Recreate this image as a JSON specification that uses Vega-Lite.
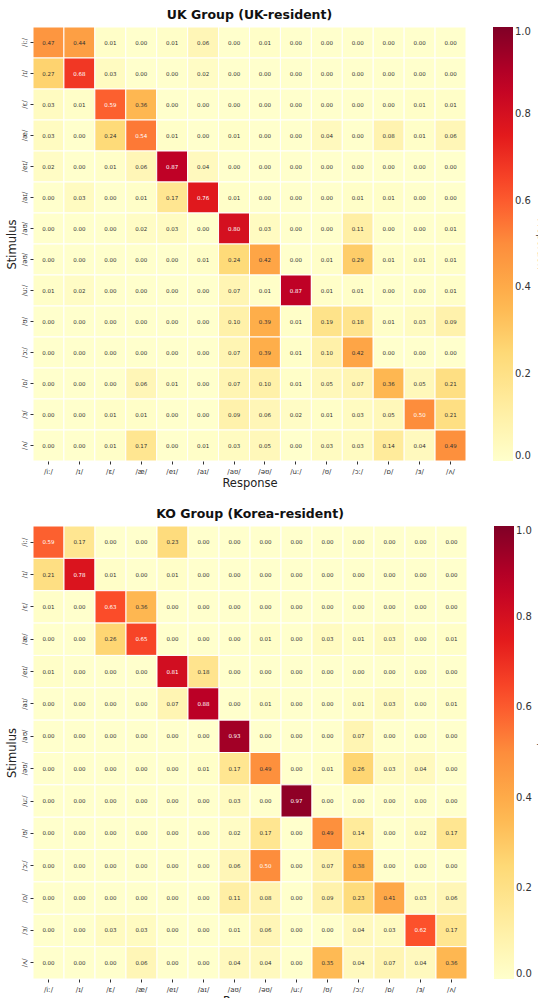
{
"$schema": "https://vega.github.io/schema/vega-lite/v6.json",
"padding": {"left": 6, "top": 9, "right": 0, "bottom": 0},
"background": "white",
"spacing": 19,
"datasets": {
"uk": [
{"s":"/iː/","r":"/iː/","v":0.47},{"s":"/iː/","r":"/ɪ/","v":0.44},{"s":"/iː/","r":"/ɛ/","v":0.01},{"s":"/iː/","r":"/æ/","v":0.00},{"s":"/iː/","r":"/eɪ/","v":0.01},{"s":"/iː/","r":"/aɪ/","v":0.06},{"s":"/iː/","r":"/aʊ/","v":0.00},{"s":"/iː/","r":"/əʊ/","v":0.01},{"s":"/iː/","r":"/uː/","v":0.00},{"s":"/iː/","r":"/ʊ/","v":0.00},{"s":"/iː/","r":"/ɔː/","v":0.00},{"s":"/iː/","r":"/ɒ/","v":0.00},{"s":"/iː/","r":"/ɜ/","v":0.00},{"s":"/iː/","r":"/ʌ/","v":0.00},
{"s":"/ɪ/","r":"/iː/","v":0.27},{"s":"/ɪ/","r":"/ɪ/","v":0.68},{"s":"/ɪ/","r":"/ɛ/","v":0.03},{"s":"/ɪ/","r":"/æ/","v":0.00},{"s":"/ɪ/","r":"/eɪ/","v":0.00},{"s":"/ɪ/","r":"/aɪ/","v":0.02},{"s":"/ɪ/","r":"/aʊ/","v":0.00},{"s":"/ɪ/","r":"/əʊ/","v":0.00},{"s":"/ɪ/","r":"/uː/","v":0.00},{"s":"/ɪ/","r":"/ʊ/","v":0.00},{"s":"/ɪ/","r":"/ɔː/","v":0.00},{"s":"/ɪ/","r":"/ɒ/","v":0.00},{"s":"/ɪ/","r":"/ɜ/","v":0.00},{"s":"/ɪ/","r":"/ʌ/","v":0.00},
{"s":"/ɛ/","r":"/iː/","v":0.03},{"s":"/ɛ/","r":"/ɪ/","v":0.01},{"s":"/ɛ/","r":"/ɛ/","v":0.59},{"s":"/ɛ/","r":"/æ/","v":0.36},{"s":"/ɛ/","r":"/eɪ/","v":0.00},{"s":"/ɛ/","r":"/aɪ/","v":0.00},{"s":"/ɛ/","r":"/aʊ/","v":0.00},{"s":"/ɛ/","r":"/əʊ/","v":0.00},{"s":"/ɛ/","r":"/uː/","v":0.00},{"s":"/ɛ/","r":"/ʊ/","v":0.00},{"s":"/ɛ/","r":"/ɔː/","v":0.00},{"s":"/ɛ/","r":"/ɒ/","v":0.00},{"s":"/ɛ/","r":"/ɜ/","v":0.01},{"s":"/ɛ/","r":"/ʌ/","v":0.01},
{"s":"/æ/","r":"/iː/","v":0.03},{"s":"/æ/","r":"/ɪ/","v":0.00},{"s":"/æ/","r":"/ɛ/","v":0.24},{"s":"/æ/","r":"/æ/","v":0.54},{"s":"/æ/","r":"/eɪ/","v":0.01},{"s":"/æ/","r":"/aɪ/","v":0.00},{"s":"/æ/","r":"/aʊ/","v":0.01},{"s":"/æ/","r":"/əʊ/","v":0.00},{"s":"/æ/","r":"/uː/","v":0.00},{"s":"/æ/","r":"/ʊ/","v":0.04},{"s":"/æ/","r":"/ɔː/","v":0.00},{"s":"/æ/","r":"/ɒ/","v":0.08},{"s":"/æ/","r":"/ɜ/","v":0.01},{"s":"/æ/","r":"/ʌ/","v":0.06},
{"s":"/eɪ/","r":"/iː/","v":0.02},{"s":"/eɪ/","r":"/ɪ/","v":0.00},{"s":"/eɪ/","r":"/ɛ/","v":0.01},{"s":"/eɪ/","r":"/æ/","v":0.06},{"s":"/eɪ/","r":"/eɪ/","v":0.87},{"s":"/eɪ/","r":"/aɪ/","v":0.04},{"s":"/eɪ/","r":"/aʊ/","v":0.00},{"s":"/eɪ/","r":"/əʊ/","v":0.00},{"s":"/eɪ/","r":"/uː/","v":0.00},{"s":"/eɪ/","r":"/ʊ/","v":0.00},{"s":"/eɪ/","r":"/ɔː/","v":0.00},{"s":"/eɪ/","r":"/ɒ/","v":0.00},{"s":"/eɪ/","r":"/ɜ/","v":0.00},{"s":"/eɪ/","r":"/ʌ/","v":0.00},
{"s":"/aɪ/","r":"/iː/","v":0.00},{"s":"/aɪ/","r":"/ɪ/","v":0.03},{"s":"/aɪ/","r":"/ɛ/","v":0.00},{"s":"/aɪ/","r":"/æ/","v":0.01},{"s":"/aɪ/","r":"/eɪ/","v":0.17},{"s":"/aɪ/","r":"/aɪ/","v":0.76},{"s":"/aɪ/","r":"/aʊ/","v":0.01},{"s":"/aɪ/","r":"/əʊ/","v":0.00},{"s":"/aɪ/","r":"/uː/","v":0.00},{"s":"/aɪ/","r":"/ʊ/","v":0.00},{"s":"/aɪ/","r":"/ɔː/","v":0.01},{"s":"/aɪ/","r":"/ɒ/","v":0.01},{"s":"/aɪ/","r":"/ɜ/","v":0.00},{"s":"/aɪ/","r":"/ʌ/","v":0.00},
{"s":"/aʊ/","r":"/iː/","v":0.00},{"s":"/aʊ/","r":"/ɪ/","v":0.00},{"s":"/aʊ/","r":"/ɛ/","v":0.00},{"s":"/aʊ/","r":"/æ/","v":0.02},{"s":"/aʊ/","r":"/eɪ/","v":0.03},{"s":"/aʊ/","r":"/aɪ/","v":0.00},{"s":"/aʊ/","r":"/aʊ/","v":0.80},{"s":"/aʊ/","r":"/əʊ/","v":0.03},{"s":"/aʊ/","r":"/uː/","v":0.00},{"s":"/aʊ/","r":"/ʊ/","v":0.00},{"s":"/aʊ/","r":"/ɔː/","v":0.11},{"s":"/aʊ/","r":"/ɒ/","v":0.00},{"s":"/aʊ/","r":"/ɜ/","v":0.00},{"s":"/aʊ/","r":"/ʌ/","v":0.01},
{"s":"/əʊ/","r":"/iː/","v":0.00},{"s":"/əʊ/","r":"/ɪ/","v":0.00},{"s":"/əʊ/","r":"/ɛ/","v":0.00},{"s":"/əʊ/","r":"/æ/","v":0.00},{"s":"/əʊ/","r":"/eɪ/","v":0.00},{"s":"/əʊ/","r":"/aɪ/","v":0.01},{"s":"/əʊ/","r":"/aʊ/","v":0.24},{"s":"/əʊ/","r":"/əʊ/","v":0.42},{"s":"/əʊ/","r":"/uː/","v":0.00},{"s":"/əʊ/","r":"/ʊ/","v":0.01},{"s":"/əʊ/","r":"/ɔː/","v":0.29},{"s":"/əʊ/","r":"/ɒ/","v":0.01},{"s":"/əʊ/","r":"/ɜ/","v":0.01},{"s":"/əʊ/","r":"/ʌ/","v":0.01},
{"s":"/uː/","r":"/iː/","v":0.01},{"s":"/uː/","r":"/ɪ/","v":0.02},{"s":"/uː/","r":"/ɛ/","v":0.00},{"s":"/uː/","r":"/æ/","v":0.00},{"s":"/uː/","r":"/eɪ/","v":0.00},{"s":"/uː/","r":"/aɪ/","v":0.00},{"s":"/uː/","r":"/aʊ/","v":0.07},{"s":"/uː/","r":"/əʊ/","v":0.01},{"s":"/uː/","r":"/uː/","v":0.87},{"s":"/uː/","r":"/ʊ/","v":0.01},{"s":"/uː/","r":"/ɔː/","v":0.01},{"s":"/uː/","r":"/ɒ/","v":0.00},{"s":"/uː/","r":"/ɜ/","v":0.00},{"s":"/uː/","r":"/ʌ/","v":0.01},
{"s":"/ʊ/","r":"/iː/","v":0.00},{"s":"/ʊ/","r":"/ɪ/","v":0.00},{"s":"/ʊ/","r":"/ɛ/","v":0.00},{"s":"/ʊ/","r":"/æ/","v":0.00},{"s":"/ʊ/","r":"/eɪ/","v":0.00},{"s":"/ʊ/","r":"/aɪ/","v":0.00},{"s":"/ʊ/","r":"/aʊ/","v":0.10},{"s":"/ʊ/","r":"/əʊ/","v":0.39},{"s":"/ʊ/","r":"/uː/","v":0.01},{"s":"/ʊ/","r":"/ʊ/","v":0.19},{"s":"/ʊ/","r":"/ɔː/","v":0.18},{"s":"/ʊ/","r":"/ɒ/","v":0.01},{"s":"/ʊ/","r":"/ɜ/","v":0.03},{"s":"/ʊ/","r":"/ʌ/","v":0.09},
{"s":"/ɔː/","r":"/iː/","v":0.00},{"s":"/ɔː/","r":"/ɪ/","v":0.00},{"s":"/ɔː/","r":"/ɛ/","v":0.00},{"s":"/ɔː/","r":"/æ/","v":0.00},{"s":"/ɔː/","r":"/eɪ/","v":0.00},{"s":"/ɔː/","r":"/aɪ/","v":0.00},{"s":"/ɔː/","r":"/aʊ/","v":0.07},{"s":"/ɔː/","r":"/əʊ/","v":0.39},{"s":"/ɔː/","r":"/uː/","v":0.01},{"s":"/ɔː/","r":"/ʊ/","v":0.10},{"s":"/ɔː/","r":"/ɔː/","v":0.42},{"s":"/ɔː/","r":"/ɒ/","v":0.00},{"s":"/ɔː/","r":"/ɜ/","v":0.00},{"s":"/ɔː/","r":"/ʌ/","v":0.00},
{"s":"/ɒ/","r":"/iː/","v":0.00},{"s":"/ɒ/","r":"/ɪ/","v":0.00},{"s":"/ɒ/","r":"/ɛ/","v":0.00},{"s":"/ɒ/","r":"/æ/","v":0.06},{"s":"/ɒ/","r":"/eɪ/","v":0.01},{"s":"/ɒ/","r":"/aɪ/","v":0.00},{"s":"/ɒ/","r":"/aʊ/","v":0.07},{"s":"/ɒ/","r":"/əʊ/","v":0.10},{"s":"/ɒ/","r":"/uː/","v":0.01},{"s":"/ɒ/","r":"/ʊ/","v":0.05},{"s":"/ɒ/","r":"/ɔː/","v":0.07},{"s":"/ɒ/","r":"/ɒ/","v":0.36},{"s":"/ɒ/","r":"/ɜ/","v":0.05},{"s":"/ɒ/","r":"/ʌ/","v":0.21},
{"s":"/ɜ/","r":"/iː/","v":0.00},{"s":"/ɜ/","r":"/ɪ/","v":0.00},{"s":"/ɜ/","r":"/ɛ/","v":0.01},{"s":"/ɜ/","r":"/æ/","v":0.01},{"s":"/ɜ/","r":"/eɪ/","v":0.00},{"s":"/ɜ/","r":"/aɪ/","v":0.00},{"s":"/ɜ/","r":"/aʊ/","v":0.09},{"s":"/ɜ/","r":"/əʊ/","v":0.06},{"s":"/ɜ/","r":"/uː/","v":0.02},{"s":"/ɜ/","r":"/ʊ/","v":0.01},{"s":"/ɜ/","r":"/ɔː/","v":0.03},{"s":"/ɜ/","r":"/ɒ/","v":0.05},{"s":"/ɜ/","r":"/ɜ/","v":0.50},{"s":"/ɜ/","r":"/ʌ/","v":0.21},
{"s":"/ʌ/","r":"/iː/","v":0.00},{"s":"/ʌ/","r":"/ɪ/","v":0.00},{"s":"/ʌ/","r":"/ɛ/","v":0.01},{"s":"/ʌ/","r":"/æ/","v":0.17},{"s":"/ʌ/","r":"/eɪ/","v":0.00},{"s":"/ʌ/","r":"/aɪ/","v":0.01},{"s":"/ʌ/","r":"/aʊ/","v":0.03},{"s":"/ʌ/","r":"/əʊ/","v":0.05},{"s":"/ʌ/","r":"/uː/","v":0.00},{"s":"/ʌ/","r":"/ʊ/","v":0.03},{"s":"/ʌ/","r":"/ɔː/","v":0.03},{"s":"/ʌ/","r":"/ɒ/","v":0.14},{"s":"/ʌ/","r":"/ɜ/","v":0.04},{"s":"/ʌ/","r":"/ʌ/","v":0.49}
],
"ko": [
{"s":"/iː/","r":"/iː/","v":0.59},{"s":"/iː/","r":"/ɪ/","v":0.17},{"s":"/iː/","r":"/ɛ/","v":0.00},{"s":"/iː/","r":"/æ/","v":0.00},{"s":"/iː/","r":"/eɪ/","v":0.23},{"s":"/iː/","r":"/aɪ/","v":0.00},{"s":"/iː/","r":"/aʊ/","v":0.00},{"s":"/iː/","r":"/əʊ/","v":0.00},{"s":"/iː/","r":"/uː/","v":0.00},{"s":"/iː/","r":"/ʊ/","v":0.00},{"s":"/iː/","r":"/ɔː/","v":0.00},{"s":"/iː/","r":"/ɒ/","v":0.00},{"s":"/iː/","r":"/ɜ/","v":0.00},{"s":"/iː/","r":"/ʌ/","v":0.00},
{"s":"/ɪ/","r":"/iː/","v":0.21},{"s":"/ɪ/","r":"/ɪ/","v":0.78},{"s":"/ɪ/","r":"/ɛ/","v":0.01},{"s":"/ɪ/","r":"/æ/","v":0.00},{"s":"/ɪ/","r":"/eɪ/","v":0.01},{"s":"/ɪ/","r":"/aɪ/","v":0.00},{"s":"/ɪ/","r":"/aʊ/","v":0.00},{"s":"/ɪ/","r":"/əʊ/","v":0.00},{"s":"/ɪ/","r":"/uː/","v":0.00},{"s":"/ɪ/","r":"/ʊ/","v":0.00},{"s":"/ɪ/","r":"/ɔː/","v":0.00},{"s":"/ɪ/","r":"/ɒ/","v":0.00},{"s":"/ɪ/","r":"/ɜ/","v":0.00},{"s":"/ɪ/","r":"/ʌ/","v":0.00},
{"s":"/ɛ/","r":"/iː/","v":0.01},{"s":"/ɛ/","r":"/ɪ/","v":0.00},{"s":"/ɛ/","r":"/ɛ/","v":0.63},{"s":"/ɛ/","r":"/æ/","v":0.36},{"s":"/ɛ/","r":"/eɪ/","v":0.00},{"s":"/ɛ/","r":"/aɪ/","v":0.00},{"s":"/ɛ/","r":"/aʊ/","v":0.00},{"s":"/ɛ/","r":"/əʊ/","v":0.00},{"s":"/ɛ/","r":"/uː/","v":0.00},{"s":"/ɛ/","r":"/ʊ/","v":0.00},{"s":"/ɛ/","r":"/ɔː/","v":0.00},{"s":"/ɛ/","r":"/ɒ/","v":0.00},{"s":"/ɛ/","r":"/ɜ/","v":0.00},{"s":"/ɛ/","r":"/ʌ/","v":0.00},
{"s":"/æ/","r":"/iː/","v":0.00},{"s":"/æ/","r":"/ɪ/","v":0.00},{"s":"/æ/","r":"/ɛ/","v":0.26},{"s":"/æ/","r":"/æ/","v":0.65},{"s":"/æ/","r":"/eɪ/","v":0.00},{"s":"/æ/","r":"/aɪ/","v":0.00},{"s":"/æ/","r":"/aʊ/","v":0.00},{"s":"/æ/","r":"/əʊ/","v":0.01},{"s":"/æ/","r":"/uː/","v":0.00},{"s":"/æ/","r":"/ʊ/","v":0.03},{"s":"/æ/","r":"/ɔː/","v":0.01},{"s":"/æ/","r":"/ɒ/","v":0.03},{"s":"/æ/","r":"/ɜ/","v":0.00},{"s":"/æ/","r":"/ʌ/","v":0.01},
{"s":"/eɪ/","r":"/iː/","v":0.01},{"s":"/eɪ/","r":"/ɪ/","v":0.00},{"s":"/eɪ/","r":"/ɛ/","v":0.00},{"s":"/eɪ/","r":"/æ/","v":0.00},{"s":"/eɪ/","r":"/eɪ/","v":0.81},{"s":"/eɪ/","r":"/aɪ/","v":0.18},{"s":"/eɪ/","r":"/aʊ/","v":0.00},{"s":"/eɪ/","r":"/əʊ/","v":0.00},{"s":"/eɪ/","r":"/uː/","v":0.00},{"s":"/eɪ/","r":"/ʊ/","v":0.00},{"s":"/eɪ/","r":"/ɔː/","v":0.00},{"s":"/eɪ/","r":"/ɒ/","v":0.00},{"s":"/eɪ/","r":"/ɜ/","v":0.00},{"s":"/eɪ/","r":"/ʌ/","v":0.00},
{"s":"/aɪ/","r":"/iː/","v":0.00},{"s":"/aɪ/","r":"/ɪ/","v":0.00},{"s":"/aɪ/","r":"/ɛ/","v":0.00},{"s":"/aɪ/","r":"/æ/","v":0.00},{"s":"/aɪ/","r":"/eɪ/","v":0.07},{"s":"/aɪ/","r":"/aɪ/","v":0.88},{"s":"/aɪ/","r":"/aʊ/","v":0.00},{"s":"/aɪ/","r":"/əʊ/","v":0.01},{"s":"/aɪ/","r":"/uː/","v":0.00},{"s":"/aɪ/","r":"/ʊ/","v":0.00},{"s":"/aɪ/","r":"/ɔː/","v":0.01},{"s":"/aɪ/","r":"/ɒ/","v":0.03},{"s":"/aɪ/","r":"/ɜ/","v":0.00},{"s":"/aɪ/","r":"/ʌ/","v":0.01},
{"s":"/aʊ/","r":"/iː/","v":0.00},{"s":"/aʊ/","r":"/ɪ/","v":0.00},{"s":"/aʊ/","r":"/ɛ/","v":0.00},{"s":"/aʊ/","r":"/æ/","v":0.00},{"s":"/aʊ/","r":"/eɪ/","v":0.00},{"s":"/aʊ/","r":"/aɪ/","v":0.00},{"s":"/aʊ/","r":"/aʊ/","v":0.93},{"s":"/aʊ/","r":"/əʊ/","v":0.00},{"s":"/aʊ/","r":"/uː/","v":0.00},{"s":"/aʊ/","r":"/ʊ/","v":0.00},{"s":"/aʊ/","r":"/ɔː/","v":0.07},{"s":"/aʊ/","r":"/ɒ/","v":0.00},{"s":"/aʊ/","r":"/ɜ/","v":0.00},{"s":"/aʊ/","r":"/ʌ/","v":0.00},
{"s":"/əʊ/","r":"/iː/","v":0.00},{"s":"/əʊ/","r":"/ɪ/","v":0.00},{"s":"/əʊ/","r":"/ɛ/","v":0.00},{"s":"/əʊ/","r":"/æ/","v":0.00},{"s":"/əʊ/","r":"/eɪ/","v":0.00},{"s":"/əʊ/","r":"/aɪ/","v":0.01},{"s":"/əʊ/","r":"/aʊ/","v":0.17},{"s":"/əʊ/","r":"/əʊ/","v":0.49},{"s":"/əʊ/","r":"/uː/","v":0.00},{"s":"/əʊ/","r":"/ʊ/","v":0.01},{"s":"/əʊ/","r":"/ɔː/","v":0.26},{"s":"/əʊ/","r":"/ɒ/","v":0.03},{"s":"/əʊ/","r":"/ɜ/","v":0.04},{"s":"/əʊ/","r":"/ʌ/","v":0.00},
{"s":"/uː/","r":"/iː/","v":0.00},{"s":"/uː/","r":"/ɪ/","v":0.00},{"s":"/uː/","r":"/ɛ/","v":0.00},{"s":"/uː/","r":"/æ/","v":0.00},{"s":"/uː/","r":"/eɪ/","v":0.00},{"s":"/uː/","r":"/aɪ/","v":0.00},{"s":"/uː/","r":"/aʊ/","v":0.03},{"s":"/uː/","r":"/əʊ/","v":0.00},{"s":"/uː/","r":"/uː/","v":0.97},{"s":"/uː/","r":"/ʊ/","v":0.00},{"s":"/uː/","r":"/ɔː/","v":0.00},{"s":"/uː/","r":"/ɒ/","v":0.00},{"s":"/uː/","r":"/ɜ/","v":0.00},{"s":"/uː/","r":"/ʌ/","v":0.00},
{"s":"/ʊ/","r":"/iː/","v":0.00},{"s":"/ʊ/","r":"/ɪ/","v":0.00},{"s":"/ʊ/","r":"/ɛ/","v":0.00},{"s":"/ʊ/","r":"/æ/","v":0.00},{"s":"/ʊ/","r":"/eɪ/","v":0.00},{"s":"/ʊ/","r":"/aɪ/","v":0.00},{"s":"/ʊ/","r":"/aʊ/","v":0.02},{"s":"/ʊ/","r":"/əʊ/","v":0.17},{"s":"/ʊ/","r":"/uː/","v":0.00},{"s":"/ʊ/","r":"/ʊ/","v":0.49},{"s":"/ʊ/","r":"/ɔː/","v":0.14},{"s":"/ʊ/","r":"/ɒ/","v":0.00},{"s":"/ʊ/","r":"/ɜ/","v":0.02},{"s":"/ʊ/","r":"/ʌ/","v":0.17},
{"s":"/ɔː/","r":"/iː/","v":0.00},{"s":"/ɔː/","r":"/ɪ/","v":0.00},{"s":"/ɔː/","r":"/ɛ/","v":0.00},{"s":"/ɔː/","r":"/æ/","v":0.00},{"s":"/ɔː/","r":"/eɪ/","v":0.00},{"s":"/ɔː/","r":"/aɪ/","v":0.00},{"s":"/ɔː/","r":"/aʊ/","v":0.06},{"s":"/ɔː/","r":"/əʊ/","v":0.50},{"s":"/ɔː/","r":"/uː/","v":0.00},{"s":"/ɔː/","r":"/ʊ/","v":0.07},{"s":"/ɔː/","r":"/ɔː/","v":0.38},{"s":"/ɔː/","r":"/ɒ/","v":0.00},{"s":"/ɔː/","r":"/ɜ/","v":0.00},{"s":"/ɔː/","r":"/ʌ/","v":0.00},
{"s":"/ɒ/","r":"/iː/","v":0.00},{"s":"/ɒ/","r":"/ɪ/","v":0.00},{"s":"/ɒ/","r":"/ɛ/","v":0.00},{"s":"/ɒ/","r":"/æ/","v":0.00},{"s":"/ɒ/","r":"/eɪ/","v":0.00},{"s":"/ɒ/","r":"/aɪ/","v":0.00},{"s":"/ɒ/","r":"/aʊ/","v":0.11},{"s":"/ɒ/","r":"/əʊ/","v":0.08},{"s":"/ɒ/","r":"/uː/","v":0.00},{"s":"/ɒ/","r":"/ʊ/","v":0.09},{"s":"/ɒ/","r":"/ɔː/","v":0.23},{"s":"/ɒ/","r":"/ɒ/","v":0.41},{"s":"/ɒ/","r":"/ɜ/","v":0.03},{"s":"/ɒ/","r":"/ʌ/","v":0.06},
{"s":"/ɜ/","r":"/iː/","v":0.00},{"s":"/ɜ/","r":"/ɪ/","v":0.00},{"s":"/ɜ/","r":"/ɛ/","v":0.03},{"s":"/ɜ/","r":"/æ/","v":0.03},{"s":"/ɜ/","r":"/eɪ/","v":0.00},{"s":"/ɜ/","r":"/aɪ/","v":0.00},{"s":"/ɜ/","r":"/aʊ/","v":0.01},{"s":"/ɜ/","r":"/əʊ/","v":0.06},{"s":"/ɜ/","r":"/uː/","v":0.00},{"s":"/ɜ/","r":"/ʊ/","v":0.00},{"s":"/ɜ/","r":"/ɔː/","v":0.04},{"s":"/ɜ/","r":"/ɒ/","v":0.03},{"s":"/ɜ/","r":"/ɜ/","v":0.62},{"s":"/ɜ/","r":"/ʌ/","v":0.17},
{"s":"/ʌ/","r":"/iː/","v":0.00},{"s":"/ʌ/","r":"/ɪ/","v":0.00},{"s":"/ʌ/","r":"/ɛ/","v":0.00},{"s":"/ʌ/","r":"/æ/","v":0.06},{"s":"/ʌ/","r":"/eɪ/","v":0.00},{"s":"/ʌ/","r":"/aɪ/","v":0.00},{"s":"/ʌ/","r":"/aʊ/","v":0.04},{"s":"/ʌ/","r":"/əʊ/","v":0.04},{"s":"/ʌ/","r":"/uː/","v":0.00},{"s":"/ʌ/","r":"/ʊ/","v":0.35},{"s":"/ʌ/","r":"/ɔː/","v":0.04},{"s":"/ʌ/","r":"/ɒ/","v":0.07},{"s":"/ʌ/","r":"/ɜ/","v":0.04},{"s":"/ʌ/","r":"/ʌ/","v":0.36}
]
},
"resolve": {"scale": {"color": "independent"}, "legend": {"color": "independent"}},
"vconcat": [
{
"title": "UK Group (UK-resident)",
"width": 433, "height": 434,
"data": {"name": "uk"},
"encoding": {
"x": {"field": "r", "type": "nominal", "sort": ["/iː/","/ɪ/","/ɛ/","/æ/","/eɪ/","/aɪ/","/aʊ/","/əʊ/","/uː/","/ʊ/","/ɔː/","/ɒ/","/ɜ/","/ʌ/"], "title": "Response", "axis": {"labelAngle": 0}},
"y": {"field": "s", "type": "nominal", "sort": ["/iː/","/ɪ/","/ɛ/","/æ/","/eɪ/","/aɪ/","/aʊ/","/əʊ/","/uː/","/ʊ/","/ɔː/","/ɒ/","/ɜ/","/ʌ/"], "title": "Stimulus", "axis": {"labelAngle": -90}}
},
"layer": [
{"mark": {"type": "rect", "stroke": "white", "strokeWidth": 1},
 "encoding": {"color": {"field": "v", "type": "quantitative",
   "scale": {"domain": [0,0.125,0.25,0.375,0.5,0.625,0.75,0.875,1], "range": ["#ffffcc","#ffeda0","#fed976","#feb24c","#fd8d3c","#fc4e2a","#e31a1c","#bd0026","#800026"], "interpolate": "rgb"},
   "legend": {"title": "Proportion", "gradientLength": 434, "gradientThickness": 20, "values": [0,0.2,0.4,0.6,0.8,1], "format": ".1f", "titleOrient": "right", "offset": 27, "labelOverlap": false}}}},
{"mark": {"type": "text", "fontSize": 5.5, "font": "DejaVu Sans"},
 "encoding": {"text": {"field": "v", "type": "quantitative", "format": ".2f"},
   "color": {"condition": {"test": "datum.v >= 0.5", "value": "white"}, "value": "#333333"}}}
]
},
{
"title": "KO Group (Korea-resident)",
"width": 434, "height": 453,
"data": {"name": "ko"},
"encoding": {
"x": {"field": "r", "type": "nominal", "sort": ["/iː/","/ɪ/","/ɛ/","/æ/","/eɪ/","/aɪ/","/aʊ/","/əʊ/","/uː/","/ʊ/","/ɔː/","/ɒ/","/ɜ/","/ʌ/"], "title": "Response", "axis": {"labelAngle": 0}},
"y": {"field": "s", "type": "nominal", "sort": ["/iː/","/ɪ/","/ɛ/","/æ/","/eɪ/","/aɪ/","/aʊ/","/əʊ/","/uː/","/ʊ/","/ɔː/","/ɒ/","/ɜ/","/ʌ/"], "title": "Stimulus", "axis": {"labelAngle": -90}}
},
"layer": [
{"mark": {"type": "rect", "stroke": "white", "strokeWidth": 1},
 "encoding": {"color": {"field": "v", "type": "quantitative",
   "scale": {"domain": [0,0.125,0.25,0.375,0.5,0.625,0.75,0.875,1], "range": ["#ffffcc","#ffeda0","#fed976","#feb24c","#fd8d3c","#fc4e2a","#e31a1c","#bd0026","#800026"], "interpolate": "rgb"},
   "legend": {"title": "Proportion", "gradientLength": 453, "gradientThickness": 20, "values": [0,0.2,0.4,0.6,0.8,1], "format": ".1f", "titleOrient": "right", "offset": 27, "labelOverlap": false}}}},
{"mark": {"type": "text", "fontSize": 5.5, "font": "DejaVu Sans"},
 "encoding": {"text": {"field": "v", "type": "quantitative", "format": ".2f"},
   "color": {"condition": {"test": "datum.v >= 0.5", "value": "white"}, "value": "#333333"}}}
]
}
],
"config": {
"view": {"stroke": null},
"font": "DejaVu Sans",
"title": {"font": "DejaVu Sans", "fontSize": 12.5, "fontWeight": "bold", "color": "#111", "offset": 5},
"axis": {"labelFont": "DejaVu Sans", "labelFontSize": 7, "labelColor": "#333", "titleFont": "DejaVu Sans", "titleFontSize": 11.5, "titleFontWeight": "normal", "titleColor": "#222", "domain": false, "tickSize": 3, "tickColor": "#333", "labelPadding": 3, "titlePadding": 3, "grid": false},
"legend": {"labelFont": "DejaVu Sans", "labelFontSize": 10, "labelColor": "#333", "titleFont": "DejaVu Sans", "titleFontSize": 10, "titleFontWeight": "normal", "titleColor": "#333", "gradientStrokeWidth": 0}
}
}
